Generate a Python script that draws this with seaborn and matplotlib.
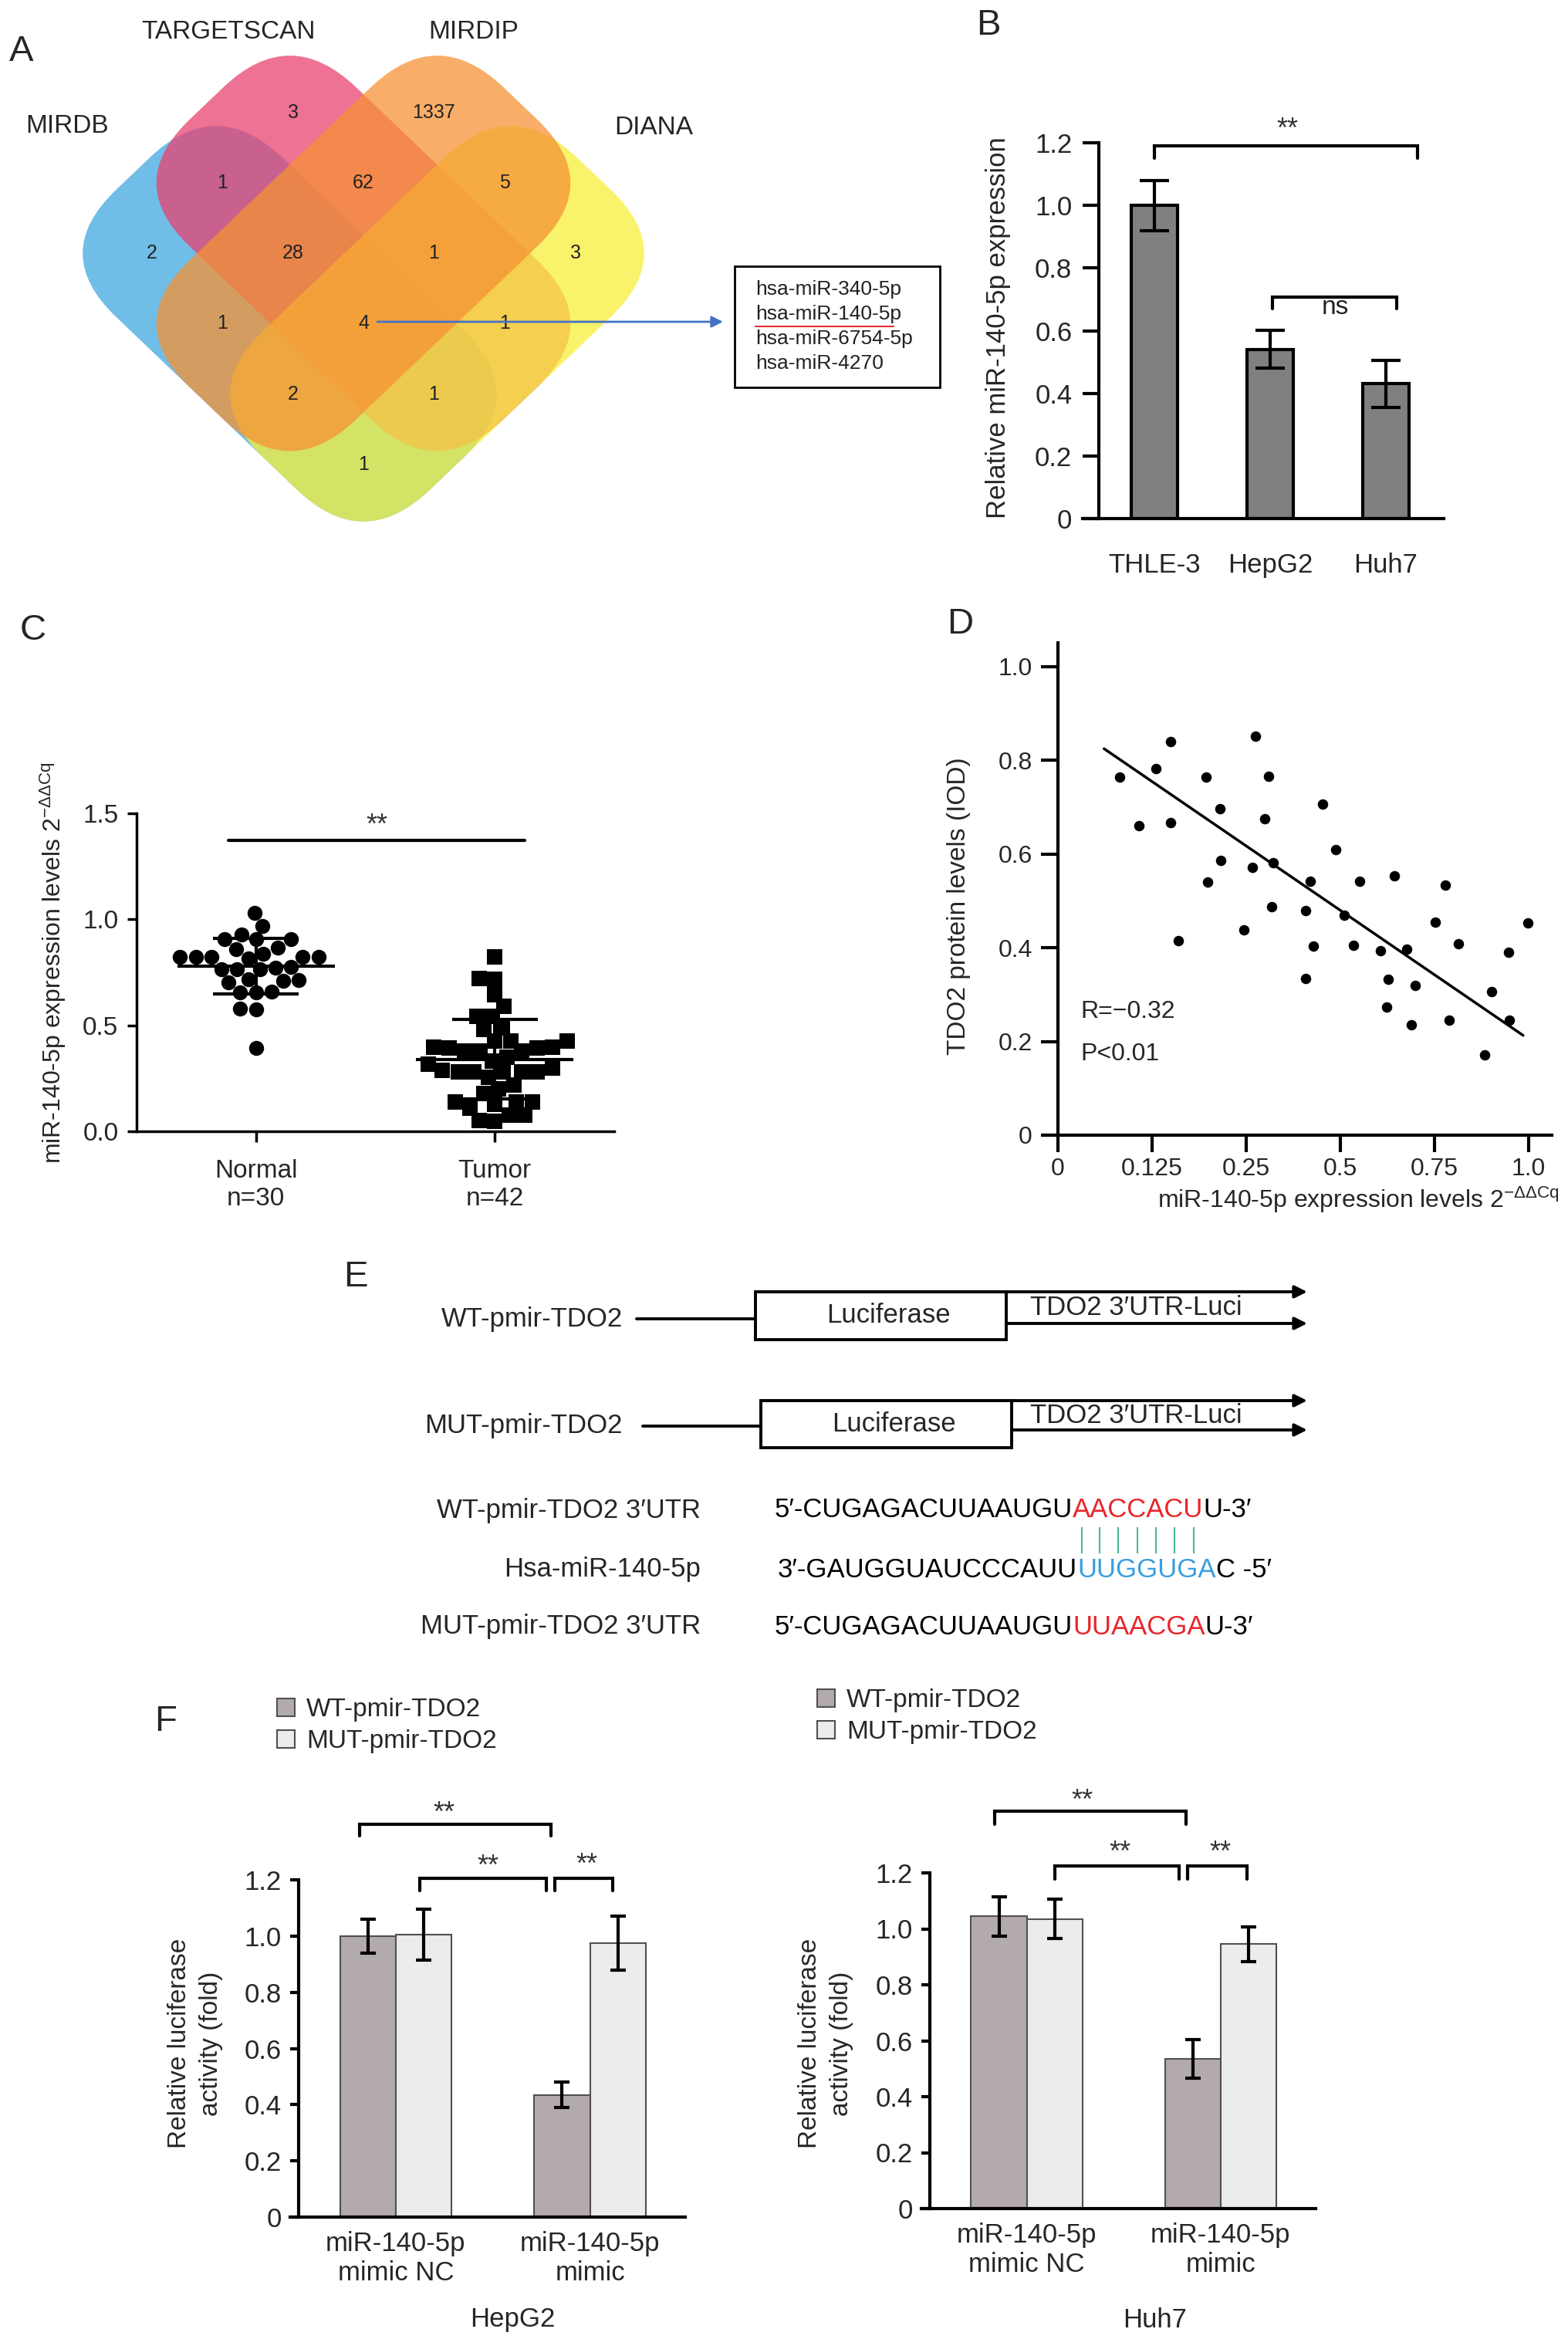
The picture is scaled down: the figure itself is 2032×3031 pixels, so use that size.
import numpy as np
import pandas as pd
import matplotlib
matplotlib.use("Agg")
import matplotlib.pyplot as plt
import seaborn as sns
from matplotlib.patches import FancyBboxPatch, Rectangle
from matplotlib.transforms import Affine2D

W, H = 2032, 3031

# ---------------- data ----------------
# A: four-database venn
venn_sets = ["MIRDB", "TARGETSCAN", "MIRDIP", "DIANA"]
venn_counts = [3, 1337, 1, 62, 5, 2, 28, 1, 3, 1, 4, 1, 2, 1, 1]
mirna_hits = ["hsa-miR-340-5p", "hsa-miR-140-5p", "hsa-miR-6754-5p", "hsa-miR-4270"]

# B: miR-140-5p in cell lines
cell_lines = ["THLE-3", "HepG2", "Huh7"]
cell_expr = [1.00, 0.54, 0.43]
cell_err = [0.08, 0.06, 0.075]

# C: tissue expression
c_groups = ["Normal\nn=30", "Tumor\nn=42"]
normal_expr = [1.03, 0.97, 0.93, 0.906, 0.906, 0.906, 0.866, 0.86, 0.837,
               0.822, 0.822, 0.815, 0.822, 0.822, 0.822, 0.776, 0.766, 0.772,
               0.766, 0.766, 0.718, 0.709, 0.703, 0.715, 0.657, 0.657, 0.66,
               0.58, 0.575, 0.393]
tumor_expr = [0.824, 0.718, 0.722, 0.646, 0.588, 0.542, 0.542, 0.479, 0.489,
              0.427, 0.427, 0.427, 0.393, 0.393, 0.377, 0.377, 0.377, 0.397,
              0.397, 0.316, 0.330, 0.287, 0.282, 0.282, 0.282, 0.282, 0.280,
              0.297, 0.255, 0.220, 0.201, 0.178, 0.140, 0.140, 0.140, 0.128,
              0.109, 0.077, 0.077, 0.048, 0.052, 0.350]

# D: correlation (x given in tick-slot units of the drawn axis)
d_tick_labels = ["0", "0.125", "0.25", "0.5", "0.75", "1.0"]
mir_pos = [0.656, 0.858, 1.042, 1.199, 1.199, 1.282, 1.571, 1.724, 1.733, 1.589,
           2.101, 2.236, 2.197, 2.066, 2.289, 2.276, 1.974, 2.683, 2.810, 2.635,
           2.713, 2.635, 2.954, 3.046, 3.138, 3.204, 3.427, 3.510, 3.492, 3.580,
           3.711, 3.794, 3.759, 4.009, 4.118, 4.258, 4.162, 4.538, 4.613, 4.788,
           4.801, 4.998]
tdo2_level = [0.765, 0.661, 0.782, 0.840, 0.667, 0.415, 0.765, 0.697, 0.586, 0.540,
              0.851, 0.766, 0.676, 0.572, 0.581, 0.487, 0.439, 0.542, 0.707, 0.479,
              0.403, 0.334, 0.610, 0.470, 0.406, 0.542, 0.393, 0.332, 0.273, 0.554,
              0.397, 0.319, 0.236, 0.454, 0.534, 0.409, 0.246, 0.171, 0.306, 0.391,
              0.246, 0.453]
fit_x = [0.49, 4.945]
fit_y = [0.825, 0.213]

# E: sequences
seq_names = ["WT-pmir-TDO2 3\u2032UTR", "Hsa-miR-140-5p", "MUT-pmir-TDO2 3\u2032UTR"]
seq_parts = [
    [("5\u2032-CUGAGACUUAAUGU", "black"), ("AACCACU", "#e8262b"), ("U-3\u2032", "black")],
    [("3\u2032-GAUGGUAUCCCAUU", "black"), ("UUGGUGA", "#3a9ee0"), ("C -5\u2032", "black")],
    [("5\u2032-CUGAGACUUAAUGU", "black"), ("UUAACGA", "#e8262b"), ("U-3\u2032", "black")],
]

# F: luciferase assay
f_groups = ["miR-140-5p\nmimic NC", "miR-140-5p\nmimic"]
f_constructs = ["WT-pmir-TDO2", "MUT-pmir-TDO2"]
hepg2_wt, hepg2_wt_err = [1.00, 0.435], [0.06, 0.045]
hepg2_mut, hepg2_mut_err = [1.005, 0.975], [0.09, 0.095]
huh7_wt, huh7_wt_err = [1.045, 0.535], [0.07, 0.07]
huh7_mut, huh7_mut_err = [1.035, 0.945], [0.07, 0.063]

# ---------------- style ----------------
sns.set_style("ticks")
plt.rcParams["font.family"] = ["Liberation Sans", "DejaVu Sans"]
plt.rcParams["mathtext.fontset"] = "custom"
plt.rcParams["mathtext.rm"] = "Liberation Sans"
plt.rcParams["mathtext.it"] = "Liberation Sans:italic"

fig = plt.figure(figsize=(W / 100, H / 100), dpi=100)
ov = fig.add_axes([0, 0, 1, 1])
ov.set_xlim(0, W)
ov.set_ylim(H, 0)
ov.axis("off")


def px_box(x0, x1, y0, y1):
    return [x0 / W, 1 - y1 / H, (x1 - x0) / W, (y1 - y0) / H]


def style_axes(ax, lw, ticklen, fs, pad):
    sns.despine(ax=ax)
    for s in ("left", "bottom"):
        ax.spines[s].set_linewidth(lw)
        ax.spines[s].set_color("black")
    ax.tick_params(axis="both", width=lw, length=ticklen, labelsize=fs,
                   pad=pad, color="black", direction="out")


def ylab(ax, text, x, y, fs, ls=1.2):
    ax.set_ylabel(text, fontsize=fs, linespacing=ls)
    ax.yaxis.set_label_coords(x, y, transform=ov.transData)
    ax.yaxis.label.set_va("center")


def stars(ax, x, y, text="**", fs=26, color="#333333"):
    ax.annotate(text, (x, y), xytext=(0, -0.58 * fs), textcoords="offset points",
                ha="center", va="baseline", fontsize=fs, color=color,
                annotation_clip=False)


def bracket(ax, x0, x1, ytop, ybot, lw=3):
    ax.plot([x0, x0, x1, x1], [ybot, ytop, ytop, ybot], color="black",
            lw=lw, clip_on=False, solid_joinstyle="miter")


# panel letters
for lab, (x, y) in zip("ABCDEF", [(28, 67), (1281, 33), (43, 817), (1244, 809),
                                   (461, 1655), (215, 2231)]):
    ov.text(x, y, lab, fontsize=34, ha="center", va="center")

# ---------------- A: venn ----------------
label_grid = Affine2D(np.array([[91.5, -91.5, 471.0], [91.2, 91.2, 419.5], [0, 0, 1]]))
shape_grid = Affine2D(np.array([[95.5, -95.5, 471.0], [91.2, 91.2, 419.5], [0, 0, 1]]))
venn_boxes = [(-2.5, -0.5, 4, 2), (-2.5, -1.5, 4, 2), (-1.5, -2.5, 2, 4), (-0.5, -2.5, 2, 4)]
venn_cells = [(-2, -1), (-1, -2), (-2, 0), (-1, -1), (0, -2), (-2, 1), (-1, 0), (0, -1),
              (1, -2), (-1, 1), (0, 0), (1, -1), (0, 1), (1, 0), (1, 1)]
venn_colors = ["#3ea6e0", "#e8416e", "#f69234", "#f8f038"]
for i in [0, 1, 3, 2]:
    a0, b0, wa, hb = venn_boxes[i]
    e = 0.13
    ov.add_patch(FancyBboxPatch((a0 - e, b0 - e), wa + 2 * e, hb + 2 * e,
                                boxstyle="round,pad=0,rounding_size=0.9",
                                transform=shape_grid + ov.transData,
                                fc=venn_colors[i], ec="none", alpha=0.74))
for cell, n in zip(venn_cells, venn_counts):
    x, y = label_grid.transform(cell)
    ov.text(x, y, str(n), fontsize=18, ha="center", va="center", color="#222222")
for name, (x, y) in zip(venn_sets, [(87, 164), (296, 41), (614, 41), (847, 165)]):
    ov.text(x, y, name, fontsize=24, ha="center", va="center")

ov.add_patch(Rectangle((952, 345), 266, 157, fill=False, ec="black", lw=2))
for k, name in enumerate(mirna_hits):
    ov.text(979, 375 + 32 * k, name, fontsize=19, ha="left", va="center", color="#222222")
ov.plot([979, 1158], [423, 423], color="#e03030", lw=1.5)
ov.annotate("", xy=(937, 417), xytext=(489, 417),
            arrowprops=dict(arrowstyle="-|>", color="#4472c4", lw=2,
                            mutation_scale=22, shrinkA=0, shrinkB=0))

# ---------------- B: bar chart ----------------
axB = fig.add_axes(px_box(1403, 1871, 185, 672))
sns.barplot(x=cell_lines, y=cell_expr, color="#808080", edgecolor="black",
            linewidth=3, width=0.4, errorbar=None, saturation=1, ax=axB)
axB.errorbar(range(len(cell_lines)), cell_expr, yerr=cell_err, fmt="none",
             ecolor="black", elinewidth=3, capsize=14, capthick=3)
axB.set_xlim(-0.62, 2.5)
axB.set_ylim(0, 1.2)
style_axes(axB, 3, 15, 25, 10)
axB.spines["left"].set_position(("data", -0.48))
axB.tick_params(axis="x", length=0, pad=32)
b_ticks = [0, 0.2, 0.4, 0.6, 0.8, 1.0, 1.2]
axB.set_yticks(b_ticks, ["0"] + [f"{v:.1f}" for v in b_ticks[1:]])
ylab(axB, "Relative miR-140-5p expression", 1293, 425, 25)
bracket(axB, 0, 2.27, 1.19, 1.15)
stars(axB, 1.15, 1.269)
bracket(axB, 1.02, 2.09, 0.707, 0.67)
stars(axB, 1.56, 0.70, text="ns", fs=24, color="#222222")

# ---------------- C: scatter ----------------
axC = fig.add_axes(px_box(177, 796, 1054, 1466))
c_df = pd.DataFrame({"group": [c_groups[0]] * len(normal_expr) + [c_groups[1]] * len(tumor_expr),
                     "expr": normal_expr + tumor_expr})
sns.swarmplot(data=c_df[c_df.group == c_groups[0]], x="group", y="expr", order=c_groups,
              marker="o", color="black", size=14, ax=axC, warn_thresh=1)
sns.swarmplot(data=c_df[c_df.group == c_groups[1]], x="group", y="expr", order=c_groups,
              marker="s", color="black", size=14, ax=axC, warn_thresh=1)
for i, vals in enumerate([normal_expr, tumor_expr]):
    m, s = np.mean(vals), np.std(vals, ddof=1)
    axC.hlines(m, i - 0.33, i + 0.33, color="black", lw=3, zorder=5)
    axC.hlines([m - s, m + s], i - 0.18, i + 0.18, color="black", lw=3, zorder=5)
    axC.vlines(i, m - s, m + s, color="black", lw=3, zorder=5)
axC.set_xlim(-0.5, 1.5)
axC.set_ylim(0, 1.5)
style_axes(axC, 2.5, 9, 24, 8)
axC.tick_params(axis="x", length=10, pad=16)
axC.set_yticks([0, 0.5, 1.0, 1.5], ["0.0", "0.5", "1.0", "1.5"])
axC.set_xlabel("")
ylab(axC, r"miR-140-5p expression levels 2$^{-\Delta\Delta \mathrm{Cq}}$", 69, 1248, 23)
axC.plot([-0.116, 1.126], [1.372, 1.372], color="black", lw=3, clip_on=False)
stars(axC, 0.506, 1.48)

# ---------------- D: correlation ----------------
axD = fig.add_axes(px_box(1352, 2011, 833, 1471))
sns.scatterplot(x=mir_pos, y=tdo2_level, s=95, color="black", linewidth=0, ax=axD)
sns.lineplot(x=fit_x, y=fit_y, color="black", lw=2.5, ax=axD)
axD.set_xlim(-0.156, 5.25)
axD.set_ylim(0, 1.051)
style_axes(axD, 3, 16, 23, 5)
axD.tick_params(axis="y", pad=8)
axD.spines["left"].set_position(("data", 0))
axD.set_xticks(range(len(d_tick_labels)), d_tick_labels)
d_yticks = [0, 0.2, 0.4, 0.6, 0.8, 1.0]
axD.set_yticks(d_yticks, ["0"] + [f"{v:.1f}" for v in d_yticks[1:]])
ylab(axD, "TDO2 protein levels (IOD)", 1242, 1174, 24)
axD.set_xlabel(r"miR-140-5p expression levels 2$^{-\Delta\Delta \mathrm{Cq}}$", fontsize=23)
axD.xaxis.set_label_coords(2021, 1555, transform=ov.transData)
axD.xaxis.label.set_ha("right")
axD.xaxis.label.set_va("center")
axD.text(0.24, 0.264, "R=\u22120.32", fontsize=23, ha="left", va="center")
axD.text(0.24, 0.173, "P<0.01", fontsize=23, ha="left", va="center")

# ---------------- E: constructs ----------------
construct_rows = [("WT-pmir-TDO2", 825, 979, 1674, 1736, 1709, 1715, 1695),
                  ("MUT-pmir-TDO2", 833, 986, 1815, 1876, 1848, 1853, 1835)]
for name, lx, bx, top, bot, ymid, ylow, ytxt in construct_rows:
    ov.text(807, ymid, name, fontsize=25, ha="right", va="center")
    ov.plot([lx, bx], [ymid, ymid], color="black", lw=2.8)
    ov.add_patch(Rectangle((bx, top), 325, bot - top, fill=False, ec="black", lw=2.8))
    ov.text(bx + 172, (top + bot) / 2, "Luciferase", fontsize=25, ha="center", va="center")
    for y0, x0 in [(top, bx), (ylow, bx + 325)]:
        ov.annotate("", xy=(1694, y0), xytext=(x0, y0),
                    arrowprops=dict(arrowstyle="-|>", color="black", lw=2.8,
                                    mutation_scale=24, shrinkA=0, shrinkB=0))
    ov.text(1472, ytxt, "TDO2 3\u2032UTR-Luci", fontsize=25, ha="center", va="center")

rend = fig.canvas.get_renderer()


def text_width(s, fs):
    t = ov.text(0, 0, s, fontsize=fs)
    w = t.get_window_extent(rend).width
    t.remove()
    return w


seq_y = [1957, 2034, 2108]
seq_x0 = [1004, 1008, 1004]
pair_x = []
for k, (name, parts) in enumerate(zip(seq_names, seq_parts)):
    ov.text(908, seq_y[k], name, fontsize=25, ha="right", va="center")
    x = seq_x0[k]
    for j, (s, c) in enumerate(parts):
        t = ov.text(x, seq_y[k], s, fontsize=25, color=c, ha="left", va="center")
        if k == 0 and j == 1:
            for n in range(len(s)):
                w0 = text_width(s[:n], 25) if n else 0
                w1 = text_width(s[:n + 1], 25)
                pair_x.append(x + (w0 + w1) / 2)
        x += t.get_window_extent(rend).width
ov.vlines(pair_x, 1979, 2013, color="#4db89a", lw=1.5)

# ---------------- F: luciferase ----------------
wt_color, mut_color = "#b3aaac", "#ececec"


def lucif_panel(box, wt, wt_err, mut, mut_err, cell, cell_xy, ylab_xy, leg_xy, brk, strs):
    ax = fig.add_axes(px_box(*box))
    df = pd.DataFrame({"group": f_groups * 2,
                       "construct": [f_constructs[0]] * 2 + [f_constructs[1]] * 2,
                       "val": wt + mut})
    sns.barplot(data=df, x="group", y="val", hue="construct", hue_order=f_constructs,
                palette=[wt_color, mut_color], width=0.575, edgecolor="#505050",
                linewidth=1.5, errorbar=None, saturation=1, ax=ax)
    for cont, errs in zip(ax.containers, [wt_err, mut_err]):
        for bar, e in zip(cont, errs):
            ax.errorbar(bar.get_x() + bar.get_width() / 2, bar.get_height(), yerr=e,
                        fmt="none", ecolor="black", elinewidth=3, capsize=7, capthick=3)
    ax.set_xlim(-0.544, 1.49)
    ax.set_ylim(0, 1.2)
    style_axes(ax, 3, 8, 25, 8)
    ax.spines["left"].set_position(("data", -0.5))
    ax.tick_params(axis="x", length=0, pad=13)
    for lbl in ax.get_xticklabels():
        lbl.set_linespacing(1.2)
    yt = [0, 0.2, 0.4, 0.6, 0.8, 1.0, 1.2]
    ax.set_yticks(yt, ["0"] + [f"{v:.1f}" for v in yt[1:]])
    ax.set_xlabel(cell, fontsize=25)
    ax.xaxis.set_label_coords(*cell_xy, transform=ov.transData)
    ax.xaxis.label.set_va("center")
    ylab(ax, "Relative luciferase\nactivity (fold)", *ylab_xy, 24, ls=1.4)
    for (x0, x1, yt_, yb) in brk:
        bracket(ax, x0, x1, yt_, yb)
    for (x, y) in strs:
        stars(ax, x, y)
    sns.move_legend(ax, "upper left", bbox_to_anchor=(leg_xy[0] / W, 1 - leg_xy[1] / H),
                    bbox_transform=fig.transFigure, frameon=False, title=None,
                    fontsize=24, handlelength=0.7, handleheight=0.7, handletextpad=0.45,
                    labelspacing=0.3, borderpad=0, borderaxespad=0)
    return ax


lucif_panel((376, 888, 2436, 2873), hepg2_wt, hepg2_wt_err, hepg2_mut, hepg2_mut_err,
            "HepG2", (664, 3006), (253, 2648), (359, 2200),
            [(-0.185, 0.80, 1.398, 1.357), (0.125, 0.774, 1.205, 1.161), (0.817, 1.116, 1.205, 1.161)],
            [(0.25, 1.466), (0.475, 1.277), (0.985, 1.282)])
lucif_panel((1194, 1705, 2427, 2862), huh7_wt, huh7_wt_err, huh7_mut, huh7_mut_err,
            "Huh7", (1497, 3006), (1070, 2648), (1059, 2188),
            [(-0.167, 0.82, 1.421, 1.374), (0.143, 0.785, 1.225, 1.178), (0.83, 1.135, 1.225, 1.178)],
            [(0.287, 1.487), (0.48, 1.302), (0.996, 1.302)])

fig.savefig("out.png", dpi=100)
